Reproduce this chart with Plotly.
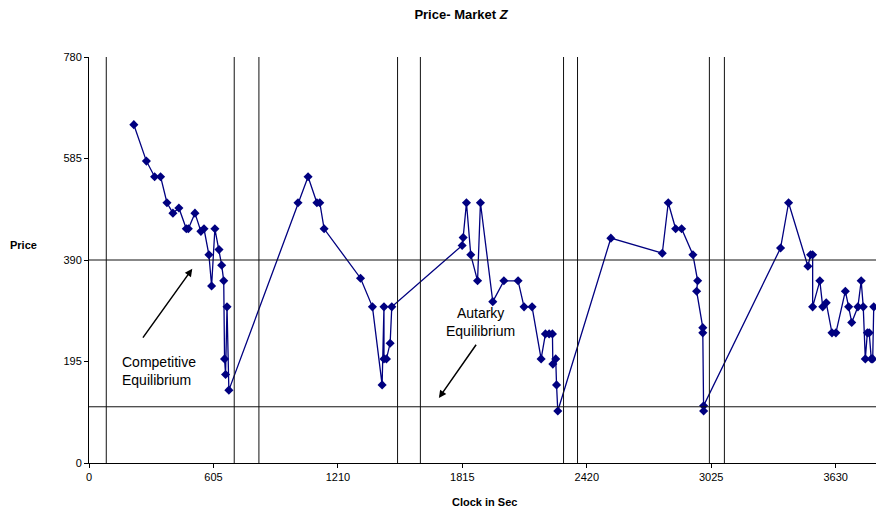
import plotly.graph_objects as go

# Data: clock (sec) and price
clock = [218, 279, 319, 348, 379, 408, 437, 473, 483, 515, 544, 559, 583, 596, 612, 632, 645, 655, 659, 664, 671, 680,
         1016, 1065, 1108, 1122, 1143, 1320, 1378, 1425, 1434, 1434, 1446, 1464, 1472,
         1814, 1819, 1835, 1856, 1889, 1903, 1963, 2017, 2086, 2115, 2154, 2198, 2219, 2237, 2253, 2255, 2269, 2273, 2279,
         2537, 2787, 2816, 2852, 2881, 2936, 2959, 2954, 2984, 2984, 2988, 2988,
         3362, 3401, 3495, 3508, 3518, 3518, 3553, 3567, 3584, 3612, 3631, 3677, 3693, 3708, 3738, 3754, 3764, 3774,
         3784, 3793, 3803, 3810, 3815, 3835]
price = [650, 580, 550, 550, 500, 480, 490, 450, 450, 480, 445, 450, 400, 340, 450, 410, 380, 350, 200, 170, 300, 140,
         500, 550, 500, 500, 450, 355, 300, 150, 300, 200, 200, 230, 300,
         418, 433, 500, 400, 350, 500, 310, 350, 350, 300, 300, 200, 248, 248, 248, 190, 200, 150, 100,
         432, 403, 500, 450, 450, 400, 350, 330, 260, 250, 100, 110,
         413, 500, 378, 400, 400, 300, 350, 300, 308, 250, 250, 330, 300, 270, 300, 350, 300, 200,
         250, 250, 200, 200, 300, 300]

period_lines = [84, 706, 826, 1500, 1611, 2307, 2375, 3016, 3089]
equilibria = [390, 108]

x_ticks = [0, 605, 1210, 1815, 2420, 3025, 3630]
y_ticks = [0, 195, 390, 585, 780]

FONT = "Liberation Sans, Arial, sans-serif"

fig = go.Figure()
fig.add_trace(go.Scatter(
    x=clock, y=price, mode="lines+markers",
    line=dict(color="#000080", width=1.3),
    marker=dict(symbol="diamond", size=7, color="#000080"),
    showlegend=False,
))

shapes = []
for xv in period_lines:
    shapes.append(dict(type="line", xref="x", yref="paper", x0=xv, x1=xv, y0=0, y1=1,
                       line=dict(color="#111111", width=1)))
for yv in equilibria:
    shapes.append(dict(type="line", xref="paper", yref="y", x0=0, x1=1, y0=yv, y1=yv,
                       line=dict(color="#111111", width=1)))

annotations = [
    dict(text="Competitive<br>Equilibrium", x=149, y=176, xref="x", yref="y", showarrow=False,
         xanchor="left", align="left", font=dict(family=FONT, size=14, color="#000")),
    dict(text="Autarky<br>Equilibrium", x=1902, y=271, xref="x", yref="y", showarrow=False,
         xanchor="center", align="center", font=dict(family=FONT, size=14, color="#000")),
    dict(x=502, y=373, ax=257, ay=238, xref="x", yref="y", axref="x", ayref="y", text="",
         showarrow=True, arrowhead=2, arrowsize=1, arrowwidth=1.5, arrowcolor="#000"),
    dict(x=1701, y=125, ax=1887, ay=230, xref="x", yref="y", axref="x", ayref="y", text="",
         showarrow=True, arrowhead=2, arrowsize=1, arrowwidth=1.5, arrowcolor="#000"),
    dict(text="<b>Price</b>", x=-0.083, y=0.538, xref="paper", yref="paper", showarrow=False,
         xanchor="center", yanchor="middle", font=dict(family=FONT, size=11, color="#000")),
    dict(text="<b>Clock in Sec</b>", x=0.503, y=-0.095, xref="paper", yref="paper", showarrow=False,
         xanchor="center", yanchor="middle", font=dict(family=FONT, size=11, color="#000")),
]

fig.update_layout(
    width=876, height=515,
    margin=dict(l=89, r=0, t=57, b=52),
    paper_bgcolor="white", plot_bgcolor="white",
    title=dict(text="<b>Price- Market <i>Z</i></b>", x=461 / 876, xanchor="center",
               y=1 - 14 / 515, yanchor="middle", xref="container", yref="container",
               font=dict(family=FONT, size=13, color="#000")),
    shapes=shapes, annotations=annotations,
    font=dict(family=FONT, size=11, color="#000"),
)
fig.update_xaxes(range=[0, 3826], tickvals=x_ticks, ticktext=[str(v) for v in x_ticks],
                 showgrid=False, zeroline=False, showline=True, linecolor="#000", linewidth=1,
                 ticks="outside", ticklen=4, tickcolor="#000", tickfont=dict(family=FONT, size=11))
fig.update_yaxes(range=[0, 780], tickvals=y_ticks, ticktext=[str(v) for v in y_ticks],
                 showgrid=False, zeroline=False, showline=True, linecolor="#000", linewidth=1,
                 ticks="outside", ticklen=4, tickcolor="#000", tickfont=dict(family=FONT, size=11))

fig.write_html("out.html")
